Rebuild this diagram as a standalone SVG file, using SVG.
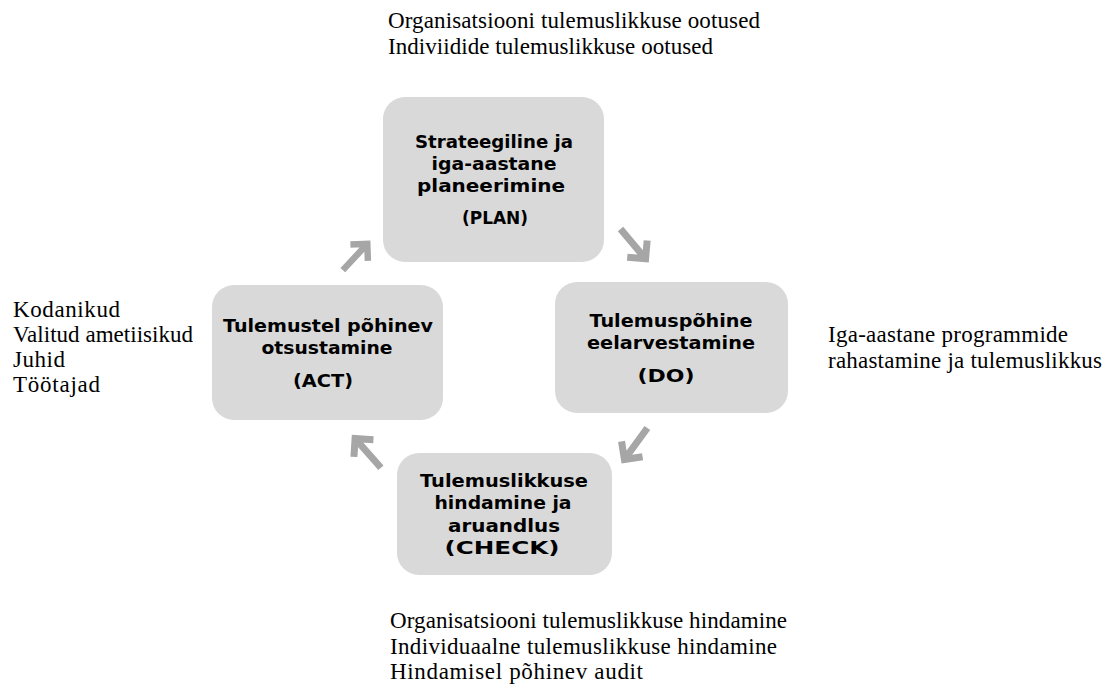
<svg xmlns="http://www.w3.org/2000/svg" xmlns:xlink="http://www.w3.org/1999/xlink" width="1113" height="688" viewBox="0 0 1113 688">
<style>
.box{fill:#d9d9d9;}
.bt{font-family:"DejaVu Sans","Liberation Sans",sans-serif;font-weight:bold;font-size:18.5px;fill:#000;text-anchor:middle;}
.st{font-family:"Liberation Serif","Times New Roman",serif;font-size:23px;fill:#000;}
.arr{fill:none;stroke:#a6a6a6;stroke-width:7;stroke-linejoin:miter;}
</style>
<defs>
<path id="arr" class="arr" d="M-21 0H18 M5-13 L18 0 L5 13"/>
</defs>
<rect width="1113" height="688" fill="#fff"/>

<g id="plan">
<rect class="box" x="383" y="97" width="221" height="165" rx="22"/>
<text class="bt" x="494" y="148" textLength="158" lengthAdjust="spacingAndGlyphs">Strateegiline ja</text>
<text class="bt" x="494" y="170" textLength="125" lengthAdjust="spacingAndGlyphs">iga-aastane</text>
<text class="bt" x="491" y="192" textLength="148" lengthAdjust="spacingAndGlyphs">planeerimine</text>
<text class="bt" x="495" y="224" textLength="66" lengthAdjust="spacingAndGlyphs">(PLAN)</text>
</g>

<g id="do">
<rect class="box" x="555" y="282" width="233" height="131" rx="22"/>
<text class="bt" x="671" y="327" textLength="163" lengthAdjust="spacingAndGlyphs">Tulemuspõhine</text>
<text class="bt" x="671" y="349" textLength="168" lengthAdjust="spacingAndGlyphs">eelarvestamine</text>
<text class="bt" x="666" y="382" textLength="57" lengthAdjust="spacingAndGlyphs">(DO)</text>
</g>

<g id="check">
<rect class="box" x="397" y="453" width="215" height="122" rx="22"/>
<text class="bt" x="504" y="487" textLength="168" lengthAdjust="spacingAndGlyphs">Tulemuslikkuse</text>
<text class="bt" x="503" y="509" textLength="137" lengthAdjust="spacingAndGlyphs">hindamine ja</text>
<text class="bt" x="504" y="532" textLength="112" lengthAdjust="spacingAndGlyphs">aruandlus</text>
<text class="bt" x="502" y="554" textLength="115" lengthAdjust="spacingAndGlyphs">(CHECK)</text>
</g>

<g id="act">
<rect class="box" x="212" y="285" width="231" height="135" rx="22"/>
<text class="bt" x="328" y="332" textLength="210" lengthAdjust="spacingAndGlyphs">Tulemustel põhinev</text>
<text class="bt" x="327" y="354" textLength="131" lengthAdjust="spacingAndGlyphs">otsustamine</text>
<text class="bt" x="323" y="387" textLength="60" lengthAdjust="spacingAndGlyphs">(ACT)</text>
</g>

<g id="connectors">
<use xlink:href="#arr" transform="translate(634 245) rotate(50)"/>
<use xlink:href="#arr" transform="translate(635 445) rotate(126)"/>
<use xlink:href="#arr" transform="translate(367 452) rotate(228.5)"/>
<use xlink:href="#arr" transform="translate(356 256) rotate(-47) scale(0.92)"/>
</g>

<g id="labels">
<text class="st" x="388" y="28" textLength="372">Organisatsiooni tulemuslikkuse ootused</text>
<text class="st" x="388" y="54" textLength="325">Indiviidide tulemuslikkuse ootused</text>
<text class="st" x="13" y="317" textLength="107">Kodanikud</text>
<text class="st" x="13" y="342" textLength="180">Valitud ametiisikud</text>
<text class="st" x="13" y="367" textLength="52">Juhid</text>
<text class="st" x="13" y="392" textLength="87">Töötajad</text>
<text class="st" x="828" y="342" textLength="240">Iga-aastane programmide</text>
<text class="st" x="828" y="368" textLength="274">rahastamine ja tulemuslikkus</text>
<text class="st" x="390" y="628" textLength="397">Organisatsiooni tulemuslikkuse hindamine</text>
<text class="st" x="390" y="654" textLength="387">Individuaalne tulemuslikkuse hindamine</text>
<text class="st" x="390" y="679" textLength="253">Hindamisel põhinev audit</text>
</g>
</svg>
